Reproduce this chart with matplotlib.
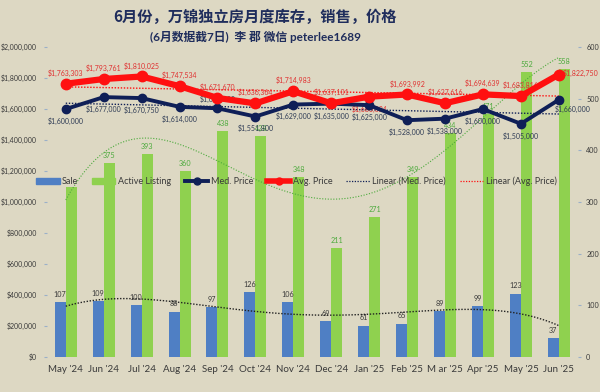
import numpy as np
import matplotlib.pyplot as plt
from matplotlib.lines import Line2D
from matplotlib.patches import Patch

plt.rcParams['font.family'] = ['Lato', 'Noto Sans CJK SC', 'DejaVu Sans']

months = ["May '24", "Jun '24", "Jul '24", "Aug '24", "Sep '24", "Oct '24", "Nov '24",
          "Dec '24", "Jan '25", "Feb '25", "M ar '25", "Apr '25", "May '25", "Jun '25"]
sales = [107, 109, 100, 88, 97, 126, 106, 69, 61, 65, 89, 99, 123, 37]
active = [330, 375, 393, 360, 438, 428, 348, 211, 271, 349, 434, 471, 552, 558]
active_shown = [False] + [True] * 13
med_price = [1600000, 1677000, 1670750, 1614000, 1605000, 1551800, 1629000,
             1635000, 1625000, 1528000, 1538000, 1600000, 1505000, 1660000]
avg_price = [1763303, 1793761, 1810025, 1747534, 1671670, 1636364, 1714983,
             1637101, 1680024, 1693992, 1637616, 1694639, 1683816, 1822750]

bg = '#ddd8c3'
blue = '#4f7fc4'
green = '#8fd14f'
navy = '#0f1f57'
red = '#ff1010'
txt = '#3a3a3a'

fig = plt.figure(figsize=(6, 3.92), dpi=100, facecolor=bg)
ax = fig.add_axes([0.078, 0.089, 0.885, 0.791])
ax2 = ax.twinx()
ax.set_zorder(ax2.get_zorder() + 1)
ax.patch.set_visible(False)
ax2.set_facecolor(bg)

x = np.arange(len(months))
w = 0.29
ax2.bar(x - w / 2, sales, w, color=blue, zorder=2)
ax2.bar(x + w / 2, active, w, color=green, zorder=2)
for i in x:
    ax2.annotate(str(sales[i]), (x[i] - w / 2, sales[i]), xytext=(0, 3),
                 textcoords='offset points', ha='center', va='bottom', fontsize=5.2, color=txt)
    if active_shown[i]:
        ax2.annotate(str(active[i]), (x[i] + w / 2, active[i]), xytext=(0, 3),
                     textcoords='offset points', ha='center', va='bottom', fontsize=5.2, color='#4caa3c')

# trend lines
xs = np.linspace(0, len(x) - 1, 200)
ax2.plot(xs, np.polyval(np.polyfit(x, active, 4), xs), ls=(0, (1, 1.5)), color='#4caa3c', lw=0.8, zorder=3)
ax2.plot(xs, np.polyval(np.polyfit(x, sales, 4), xs), ls=(0, (1, 1.2)), color='#222222', lw=1.0, zorder=3)
ax2.set_ylim(0, 600)
ax2.set_yticks(range(0, 601, 100))

ax.plot(x, np.polyval(np.polyfit(x, med_price, 1), x), ls=(0, (1, 1.2)), color=navy, lw=1.0, zorder=2)
ax.plot(x, np.polyval(np.polyfit(x, avg_price, 1), x), ls=(0, (1, 1.2)), color=red, lw=1.0, zorder=2)
ax.plot(x, med_price, color=navy, lw=2.8, marker='o', ms=6, zorder=4)
ax.plot(x, avg_price, color=red, lw=4.5, marker='o', ms=7.5, zorder=5)

for i in x:
    if i == len(x) - 1:
        ax.annotate(f"${med_price[i]:,}", (x[i], med_price[i]), xytext=(-3, -7),
                    textcoords='offset points', ha='left', va='center', fontsize=5, color='#2e3b55')
        ax.annotate(f"${avg_price[i]:,}", (x[i], avg_price[i]), xytext=(3, 1),
                    textcoords='offset points', ha='left', va='center', fontsize=5, color='#e03030')
        continue
    dy = 4 if i == 4 else -6
    ax.annotate(f"${med_price[i]:,}", (x[i], med_price[i]), xytext=(0, dy),
                textcoords='offset points', ha='center', va='bottom' if dy > 0 else 'top',
                fontsize=5, color='#2e3b55')
    dy = -6 if i == 8 else 5
    ax.annotate(f"${avg_price[i]:,}", (x[i], avg_price[i]), xytext=(0, dy),
                textcoords='offset points', ha='center', va='bottom' if dy > 0 else 'top',
                fontsize=5, color='#e03030')

ax.set_ylim(0, 2000000)
ax.set_yticks(range(0, 2000001, 200000))
ax.yaxis.set_major_formatter(lambda v, p: f"${int(v):,}")
ax.set_xlim(-0.5, len(x) - 0.5)
ax.set_xticks(x)
ax.set_xticklabels(months, fontsize=7, color=txt)

for a in (ax, ax2):
    for s in a.spines.values():
        s.set_visible(False)
ax.tick_params(axis='y', labelsize=5, labelcolor=txt, length=2, color='#9ab0c8', pad=5)
ax2.tick_params(axis='y', labelsize=5.2, labelcolor=txt, length=2, color='#9ab0c8', pad=4)
ax.tick_params(axis='x', length=0, pad=6)

handles = [
    Patch(color=blue, label='Sale'),
    Patch(color=green, label='Active Listing'),
    Line2D([], [], color=navy, lw=2.8, marker='o', ms=5, label='Med. Price'),
    Line2D([], [], color=red, lw=4, marker='o', ms=5, label='Avg. Price'),
    Line2D([], [], color=navy, lw=0.9, ls=(0, (1, 1.2)), label='Linear (Med. Price)'),
    Line2D([], [], color=red, lw=0.9, ls=(0, (1, 1.2)), label='Linear (Avg. Price)'),
]
leg = ax.legend(handles=handles, loc='center', bbox_to_anchor=(0.47, 0.567), ncol=6,
                frameon=False, fontsize=6.5, handlelength=2.6, handletextpad=0.3,
                columnspacing=1.5, labelcolor=txt)
leg.set_zorder(10)

fig.text(0.425, 0.958, "6月份，万锦独立房月度库存，销售，价格", ha='center', va='center',
         fontsize=11, fontweight='bold', color='#1f2d5c', family=['Noto Sans CJK SC'])
fig.text(0.425, 0.905, "(6月数据截7日)  李 郡 微信 peterlee1689", ha='center', va='center',
         fontsize=8.5, fontweight='bold', color='#1f2d5c', family=['Lato', 'Noto Sans CJK SC'])

fig.savefig('out.png', dpi=100, facecolor=bg)
